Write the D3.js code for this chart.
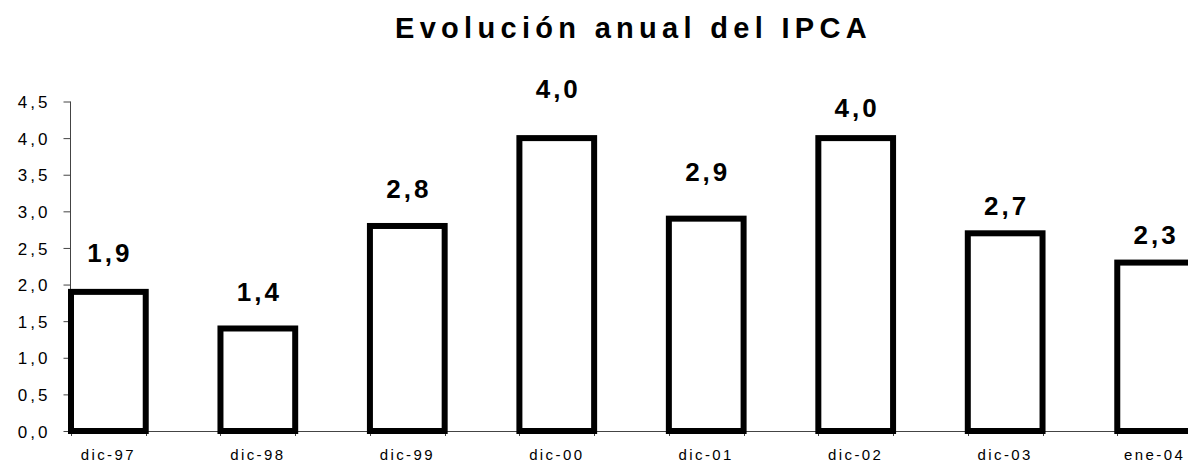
<!DOCTYPE html>
<html>
<head>
<meta charset="utf-8">
<script src="https://cdn.jsdelivr.net/npm/d3@7"></script>
<style>
    body { margin: 0; background: #fff; }
    text { font-family: "Liberation Sans", Arial, sans-serif; fill: #000; }
</style>
</head>
<body>
<div id="chart"></div>
<script>
// data
let months = ["dic-97", "dic-98", "dic-99", "dic-00", "dic-01", "dic-02", "dic-03", "ene-04"];
let ipca = [1.9, 1.4, 2.8, 4.0, 2.9, 4.0, 2.7, 2.3];
let yTicks = [0, 0.5, 1, 1.5, 2, 2.5, 3, 3.5, 4, 4.5];
// how far each value label sits above its bar (labels were moved by hand in the original)
let labelLift = [30, 27, 28, 40, 38, 21, 18, 19];

class IpcaChart {

    constructor(parentElement) {
        this.parentElement = parentElement;
        this.initVis();
    }

    initVis() {
        let vis = this;

        vis.width = 1188;
        vis.height = 465;

        vis.svg = d3.select("#" + vis.parentElement).append("svg")
            .attr("width", vis.width)
            .attr("height", vis.height);

        // spanish number format: comma as decimal mark
        vis.fmt = d3.formatLocale({decimal: ",", thousands: ".", grouping: [3], currency: ["", "€"]}).format(".1f");

        vis.x = d3.scaleBand()
            .domain(months)
            .range([71, 1192])
            .paddingInner(0.5)
            .paddingOuter(0)
            .align(0);

        vis.y = d3.scaleLinear()
            .domain([0, 4.5])
            .range([431, 101.5]);

        vis.svg.append("text")
            .attr("x", 395)
            .attr("y", 38)
            .style("font-size", "29px")
            .style("font-weight", "bold")
            .style("letter-spacing", "5.3px")
            .text("Evolución anual del IPCA");

        vis.updateVis();
    }

    updateVis() {
        let vis = this;

        // y axis
        let yAxis = vis.svg.append("g")
            .attr("transform", "translate(70.5,0)")
            .call(d3.axisLeft(vis.y).tickValues(yTicks).tickSize(7).tickFormat(vis.fmt));
        yAxis.select(".domain").attr("stroke", "#444").attr("d", `M0,${vis.y(4.5)}V${vis.y(0)}`);
        yAxis.selectAll(".tick line").attr("stroke", "#444");
        yAxis.selectAll(".tick text")
            .attr("x", -20)
            .attr("dy", "0.36em")
            .style("font-size", "17px")
            .style("letter-spacing", "3px")
            .style("font-family", "Liberation Sans, Arial, sans-serif")
            .style("fill", "#000");

        // x axis line + ticks at every bar edge
        let edges = [];
        months.forEach(m => {
            edges.push(vis.x(m));
            edges.push(vis.x(m) + vis.x.bandwidth());
        });
        let xg = vis.svg.append("g");
        xg.append("line")
            .attr("x1", 70).attr("x2", vis.width)
            .attr("y1", vis.y(0) + 0.5).attr("y2", vis.y(0) + 0.5)
            .attr("stroke", "#444");
        xg.selectAll(".xt")
            .data(edges)
            .enter().append("line")
            .attr("x1", d => Math.round(d) + 0.5).attr("x2", d => Math.round(d) + 0.5)
            .attr("y1", vis.y(0)).attr("y2", vis.y(0) + 5)
            .attr("stroke", "#444");

        xg.selectAll(".xlab")
            .data(months)
            .enter().append("text")
            .attr("text-anchor", "middle")
            .attr("x", d => vis.x(d) + vis.x.bandwidth() / 2)
            .attr("y", 460)
            .style("font-size", "15px")
            .style("letter-spacing", "2.4px")
            .text(d => d);

        // bars
        vis.svg.selectAll(".bar")
            .data(ipca)
            .enter().append("rect")
            .attr("class", "bar")
            .attr("x", (d, i) => vis.x(months[i]))
            .attr("y", d => vis.y(d))
            .attr("width", vis.x.bandwidth())
            .attr("height", d => vis.y(0) - vis.y(d))
            .attr("fill", "#fff")
            .attr("stroke", "#000")
            .attr("stroke-width", 6);

        // value labels
        vis.svg.selectAll(".value")
            .data(ipca)
            .enter().append("text")
            .attr("text-anchor", "middle")
            .attr("x", (d, i) => vis.x(months[i]) + vis.x.bandwidth() / 2 + 1.5)
            .attr("y", (d, i) => vis.y(d) - labelLift[i])
            .style("font-size", "26px")
            .style("font-weight", "bold")
            .style("letter-spacing", "3px")
            .text(d => vis.fmt(d));
    }
}

new IpcaChart("chart");
</script>
</body>
</html>
